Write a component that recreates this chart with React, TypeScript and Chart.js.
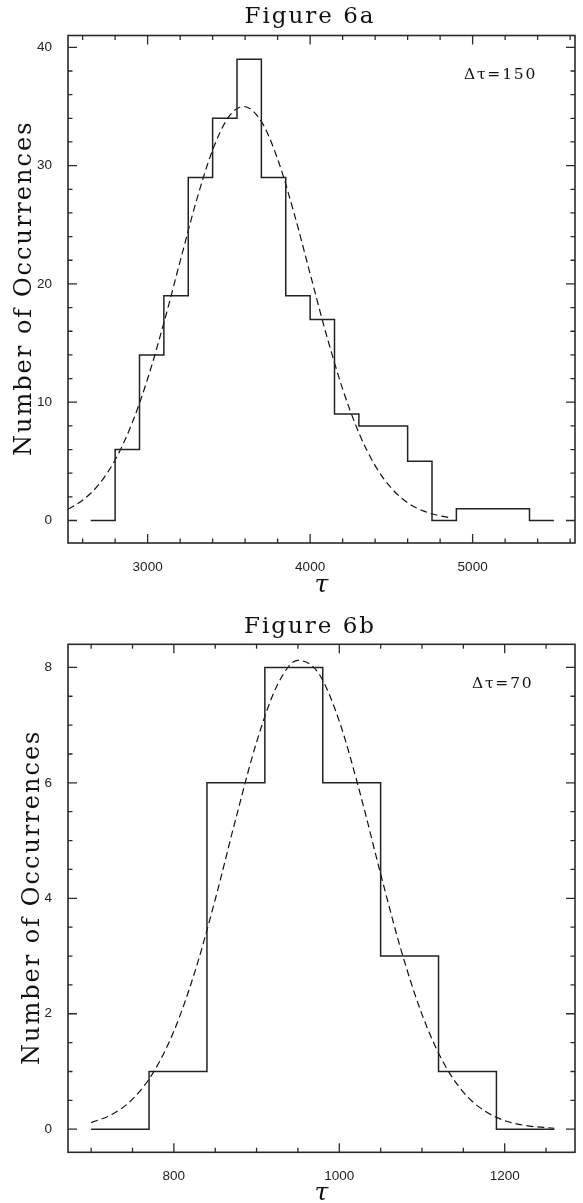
import React, { useEffect, useRef } from "react";
import { Chart, registerables } from "chart.js";

Chart.register(...registerables);

// ---------- Figure 6a data ----------
const topBinEdges = [2650, 2800, 2950, 3100, 3250, 3400, 3550, 3700, 3850, 4000, 4150, 4300, 4450, 4600, 4750, 4900, 5050, 5200, 5350, 5500];
const topCounts = [0, 6, 14, 19, 29, 34, 39, 29, 19, 17, 9, 8, 8, 5, 0, 1, 1, 1, 0];
const topFitX = [2510, 2600, 2700, 2800, 2900, 3000, 3100, 3200, 3300, 3400, 3500, 3590, 3700, 3800, 3900, 4000, 4100, 4200, 4300, 4400, 4500, 4600, 4700, 4800, 4850];
const topFitY = [0.96, 1.71, 3.05, 5.12, 8.08, 11.98, 16.71, 21.91, 27.02, 31.32, 34.14, 35.0, 33.72, 30.56, 26.04, 20.86, 15.71, 11.13, 7.41, 4.64, 2.73, 1.51, 0.79, 0.39, 0.26];
const topXTicks = [3000, 4000, 5000];
const topYTicks = [0, 10, 20, 30, 40];

// ---------- Figure 6b data ----------
const botBinEdges = [700, 770, 840, 910, 980, 1050, 1120, 1190, 1260];
const botCounts = [0, 1, 6, 8, 6, 3, 1, 0];
const botFitX = [700, 725, 750, 775, 800, 825, 850, 875, 900, 925, 950, 975, 1000, 1025, 1050, 1075, 1100, 1125, 1150, 1175, 1200, 1225, 1260];
const botFitY = [0.115, 0.254, 0.52, 0.98, 1.698, 2.708, 3.979, 5.384, 6.705, 7.691, 8.121, 7.897, 7.069, 5.828, 4.423, 3.09, 1.989, 1.178, 0.642, 0.323, 0.149, 0.064, 0.017];
const botXTicks = [800, 1000, 1200];
const botYTicks = [0, 2, 4, 6, 8];

type PanelSpec = {
  height: number;
  title: string;
  note: string;
  edges: number[];
  counts: number[];
  fitX: number[];
  fitY: number[];
  xTicks: number[];
  yTicks: number[];
  xMin: number;
  xMax: number;
  yMin: number;
  yMax: number;
  xMinorStep: number;
  yMinorStep: number;
  areaTop: number;
  areaBottom: number;
  titleBaseline: number;
  yLabelX: number;
  tauBaseline: number;
  noteX: number;
  noteBaseline: number;
};

const panels: PanelSpec[] = [
  {
    height: 600,
    title: "Figure 6a",
    note: "\u0394\u03c4=150",
    edges: topBinEdges,
    counts: topCounts,
    fitX: topFitX,
    fitY: topFitY,
    xTicks: topXTicks,
    yTicks: topYTicks,
    xMin: 2510,
    xMax: 5630,
    yMin: -1.9,
    yMax: 41,
    xMinorStep: 200,
    yMinorStep: 2,
    areaTop: 35.5,
    areaBottom: 543,
    titleBaseline: 23,
    yLabelX: 30.7,
    tauBaseline: 591.5,
    noteX: 464,
    noteBaseline: 79.3,
  },
  {
    height: 603,
    title: "Figure 6b",
    note: "\u0394\u03c4=70",
    edges: botBinEdges,
    counts: botCounts,
    fitX: botFitX,
    fitY: botFitY,
    xTicks: botXTicks,
    yTicks: botYTicks,
    xMin: 672,
    xMax: 1285,
    yMin: -0.4,
    yMax: 8.4,
    xMinorStep: 50,
    yMinorStep: 0.5,
    areaTop: 44.3,
    areaBottom: 552.3,
    titleBaseline: 33.3,
    yLabelX: 39,
    tauBaseline: 600,
    noteX: 472,
    noteBaseline: 88,
  },
];

const W = 583;
const AREA_LEFT = 68;
const AREA_RIGHT = 575;

function drawSpaced(ctx: CanvasRenderingContext2D, text: string, x: number, y: number, spacing: number, align: "left" | "center") {
  (ctx as any).letterSpacing = spacing + "px";
  ctx.textAlign = "left";
  const w = ctx.measureText(text).width - spacing;
  const startX = align === "center" ? x - w / 2 : x;
  ctx.fillText(text, startX, y);
  (ctx as any).letterSpacing = "0px";
}

function Panel({ spec }: { spec: PanelSpec }) {
  const ref = useRef<HTMLCanvasElement | null>(null);

  useEffect(() => {
    const canvas = ref.current;
    if (!canvas) return;

    const histData = spec.edges.map((e, i) => ({
      x: e,
      y: i < spec.counts.length ? spec.counts[i] : spec.counts[spec.counts.length - 1],
    }));
    const fitData = spec.fitX.map((x, i) => ({ x, y: spec.fitY[i] }));

    const decor = {
      id: "decor",
      afterDraw(chart: any) {
        const ctx: CanvasRenderingContext2D = chart.ctx;
        const a = chart.chartArea;
        const xs = chart.scales.x;
        const ys = chart.scales.y;
        ctx.save();
        // frame
        ctx.strokeStyle = "#2a2a2a";
        ctx.lineWidth = 1.6;
        ctx.strokeRect(a.left, a.top, a.right - a.left, a.bottom - a.top);
        // ticks
        ctx.lineWidth = 1.3;
        ctx.beginPath();
        const majorLen = 9;
        const minorLen = 4.5;
        const isMajorX = (v: number) => spec.xTicks.some((t) => Math.abs(t - v) < 1e-6);
        const isMajorY = (v: number) => spec.yTicks.some((t) => Math.abs(t - v) < 1e-6);
        const xStart = Math.ceil(spec.xMin / spec.xMinorStep) * spec.xMinorStep;
        for (let v = xStart; v <= spec.xMax + 1e-9; v += spec.xMinorStep) {
          const px = xs.getPixelForValue(v);
          const len = isMajorX(v) ? majorLen : minorLen;
          ctx.moveTo(px, a.bottom);
          ctx.lineTo(px, a.bottom - len);
          ctx.moveTo(px, a.top);
          ctx.lineTo(px, a.top + len);
        }
        const yStart = Math.ceil(spec.yMin / spec.yMinorStep) * spec.yMinorStep;
        for (let v = yStart; v <= spec.yMax + 1e-9; v += spec.yMinorStep) {
          const py = ys.getPixelForValue(v);
          const len = isMajorY(v) ? majorLen : minorLen;
          ctx.moveTo(a.left, py);
          ctx.lineTo(a.left + len, py);
          ctx.moveTo(a.right, py);
          ctx.lineTo(a.right - len, py);
        }
        ctx.stroke();

        // texts
        ctx.fillStyle = "#111";
        ctx.textBaseline = "alphabetic";
        ctx.font = '23px "DejaVu Serif"';
        drawSpaced(ctx, spec.title, 309, spec.titleBaseline, 2, "center");

        ctx.font = '15.5px "DejaVu Serif"';
        drawSpaced(ctx, spec.note, spec.noteX, spec.noteBaseline, 1.8, "left");

        ctx.font = 'italic 25px "DejaVu Serif"';
        drawSpaced(ctx, "\u03c4", (a.left + a.right) / 2, spec.tauBaseline, 0, "center");

        ctx.save();
        ctx.translate(spec.yLabelX, (a.top + a.bottom) / 2);
        ctx.rotate(-Math.PI / 2);
        ctx.font = '24px "DejaVu Serif"';
        drawSpaced(ctx, "Number of Occurrences", 0, 0, 2, "center");
        ctx.restore();

        ctx.restore();
      },
    };

    const chart = new Chart(canvas, {
      type: "line",
      data: {
        datasets: [
          {
            label: "histogram",
            data: histData,
            stepped: "before",
            borderColor: "#222",
            borderWidth: 1.5,
            pointRadius: 0,
            fill: false,
          },
          {
            label: "fit",
            data: fitData,
            borderColor: "#111",
            borderWidth: 1.2,
            borderDash: [7, 4],
            pointRadius: 0,
            fill: false,
            cubicInterpolationMode: "monotone",
          },
        ],
      } as any,
      options: {
        responsive: false,
        animation: false,
        devicePixelRatio: 1,
        layout: {
          padding: { left: 0, right: W - AREA_RIGHT, top: spec.areaTop, bottom: 0 },
        },
        plugins: {
          legend: { display: false },
          tooltip: { enabled: false },
          title: { display: false },
        },
        scales: {
          x: {
            type: "linear",
            min: spec.xMin,
            max: spec.xMax,
            grid: { display: false },
            border: { display: false },
            ticks: {
              color: "#222",
              font: { family: '"Liberation Sans", Arial, sans-serif', size: 13.5 },
              padding: 8,
              maxRotation: 0,
              autoSkip: false,
              callback: (v: any) => String(v),
            },
            afterBuildTicks: (s: any) => {
              s.ticks = spec.xTicks.map((v) => ({ value: v }));
            },
            afterFit: (s: any) => {
              s.height = spec.height - spec.areaBottom;
            },
          },
          y: {
            type: "linear",
            min: spec.yMin,
            max: spec.yMax,
            grid: { display: false },
            border: { display: false },
            ticks: {
              color: "#222",
              font: { family: '"Liberation Sans", Arial, sans-serif', size: 13.5 },
              padding: 8,
              autoSkip: false,
              callback: (v: any) => String(v),
            },
            afterBuildTicks: (s: any) => {
              s.ticks = spec.yTicks.map((v) => ({ value: v }));
            },
            afterFit: (s: any) => {
              s.width = AREA_LEFT;
            },
          },
        },
      } as any,
      plugins: [decor],
    });

    return () => chart.destroy();
  }, [spec]);

  return <canvas ref={ref} width={W} height={spec.height} style={{ display: "block", width: W, height: spec.height }} />;
}

export default function App() {
  return (
    <div style={{ position: "absolute", left: 0, top: 0, width: W, background: "#fff" }}>
      {panels.map((p) => (
        <Panel key={p.title} spec={p} />
      ))}
    </div>
  );
}
